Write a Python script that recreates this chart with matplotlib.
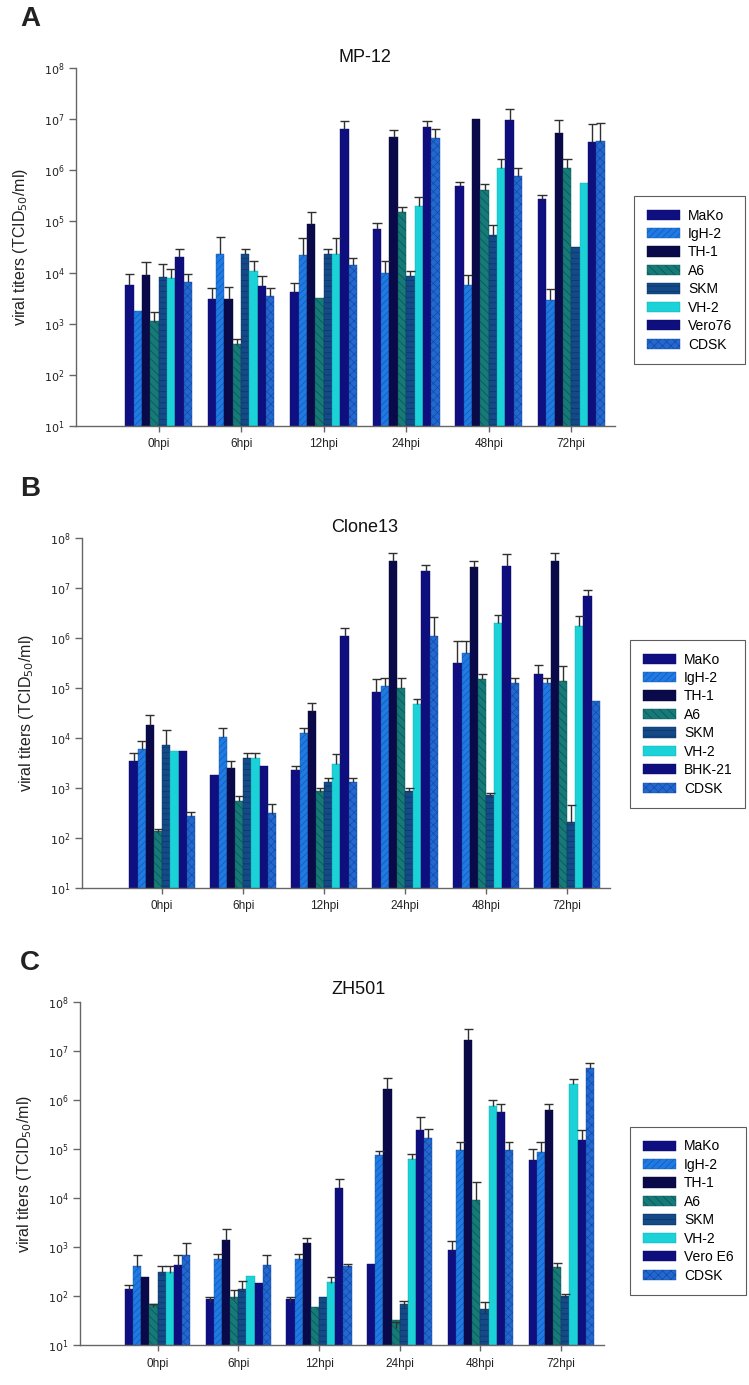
import numpy as np
import matplotlib
matplotlib.use("Agg")
import matplotlib.pyplot as plt
from matplotlib.patches import Patch

plt.rcParams['font.family'] = ['Liberation Sans', 'DejaVu Sans']
plt.rcParams['hatch.linewidth'] = 0.5

times = ["0hpi", "6hpi", "12hpi", "24hpi", "48hpi", "72hpi"]

lines_a = ["MaKo", "IgH-2", "TH-1", "A6", "SKM", "VH-2", "Vero76", "CDSK"]
lines_b = ["MaKo", "IgH-2", "TH-1", "A6", "SKM", "VH-2", "BHK-21", "CDSK"]
lines_c = ["MaKo", "IgH-2", "TH-1", "A6", "SKM", "VH-2", "Vero E6", "CDSK"]

# MP-12 titers (rows = cell lines, cols = time points) and upper error-bar tops
mp12_titer = [
    [5.8e3, 3.0e3, 4.2e3, 7.0e4, 4.9e5, 2.8e5],
    [1.8e3, 2.3e4, 2.2e4, 1.0e4, 5.8e3, 2.9e3],
    [8.9e3, 3.0e3, 8.9e4, 4.4e6, 1.0e7, 5.4e6],
    [1.1e3, 4.0e2, 3.2e3, 1.5e5, 4.1e5, 1.1e6],
    [8.1e3, 2.3e4, 2.3e4, 8.5e3, 5.4e4, 3.2e4],
    [7.9e3, 1.07e4, 2.3e4, 2.0e5, 1.1e6, 5.7e5],
    [2.0e4, 5.4e3, 6.3e6, 7.1e6, 9.7e6, 3.6e6],
    [6.4e3, 3.5e3, 1.4e4, 4.2e6, 7.8e5, 3.7e6],
]
mp12_err = [
    [9.5e3, 4.9e3, 6.3e3, 9.3e4, 6.0e5, 3.3e5],
    [None, 4.9e4, 4.7e4, 1.66e4, 9.1e3, 4.8e3],
    [1.6e4, 5.2e3, 1.55e5, 6.2e6, None, 9.8e6],
    [1.66e3, 5.1e2, None, 1.95e5, 5.5e5, 1.66e6],
    [1.5e4, 2.95e4, 2.95e4, 1.05e4, 8.5e4, None],
    [1.15e4, 1.66e4, 4.7e4, 2.95e5, 1.66e6, None],
    [2.95e4, 8.7e3, 9.1e6, 9.1e6, 1.58e7, 8.1e6],
    [9.3e3, 5.1e3, 1.95e4, 6.3e6, 1.1e6, 8.5e6],
]

# Clone13
clone13_titer = [
    [3.5e3, 1.8e3, 2.3e3, 8.3e4, 3.1e5, 1.9e5],
    [6.1e3, 1.03e4, 1.24e4, 1.1e5, 4.9e5, 1.24e5],
    [1.8e4, 2.5e3, 3.5e4, 3.5e7, 2.6e7, 3.5e7],
    [1.3e2, 5.5e2, 8.5e2, 1.0e5, 1.5e5, 1.4e5],
    [7.2e3, 3.9e3, 1.3e3, 8.5e2, 7.0e2, 2.0e2],
    [5.6e3, 3.9e3, 3.0e3, 4.8e4, 2.0e6, 1.7e6],
    [5.6e3, 2.7e3, 1.1e6, 2.2e7, 2.8e7, 6.9e6],
    [2.7e2, 3.0e2, 1.3e3, 1.1e6, 1.24e5, 5.5e4],
]
clone13_err = [
    [5.1e3, None, 2.8e3, 1.48e5, 8.7e5, 2.9e5],
    [8.9e3, 1.62e4, 1.6e4, 1.62e5, 8.7e5, 1.62e5],
    [2.9e4, 3.5e3, 5.1e4, 5.0e7, 3.4e7, 5.1e7],
    [1.5e2, 7.0e2, 1.0e3, 1.62e5, 1.9e5, 2.7e5],
    [1.45e4, 5.0e3, 1.6e3, 1.0e3, 8.0e2, 4.5e2],
    [None, 5.0e3, 4.8e3, 5.9e4, 2.9e6, 2.7e6],
    [None, None, 1.55e6, 2.9e7, 4.8e7, 9.1e6],
    [3.3e2, 4.8e2, 1.6e3, 2.6e6, 1.62e5, None],
]

# ZH501
zh501_titer = [
    [1.3e2, 75, 75, 4.5e2, 8.7e2, 6.0e4],
    [3.9e2, 5.6e2, 5.6e2, 7.6e4, 9.5e4, 8.8e4],
    [2.4e2, 1.4e3, 1.2e3, 1.7e6, 1.7e7, 6.3e5],
    [60, 85, 50, 22, 9.1e3, 3.8e2],
    [3.0e2, 1.3e2, 85, 60, 45, 90],
    [3.0e2, 2.45e2, 1.8e2, 6.2e4, 7.6e5, 2.1e6],
    [4.15e2, 1.7e2, 1.6e4, 2.4e5, 5.6e5, 1.5e5],
    [6.9e2, 4.2e2, 3.9e2, 1.7e5, 9.5e4, 4.6e6],
]
zh501_err = [
    [1.7e2, 95, 95, None, 1.3e3, 1.0e5],
    [6.8e2, 7.2e2, 7.2e2, 9.3e4, 1.4e5, 1.4e5],
    [None, 2.3e3, 1.5e3, 2.75e6, 2.8e7, 8.3e5],
    [70, 1.3e2, None, 30, 2.1e4, 4.7e2],
    [4.1e2, 2.0e2, None, 80, 75, 1.1e2],
    [4.1e2, None, 2.4e2, 7.9e4, 9.8e5, 2.7e6],
    [6.9e2, None, 2.45e4, 4.4e5, 8.3e5, 2.45e5],
    [1.2e3, 6.9e2, 4.6e2, 2.6e5, 1.4e5, 5.6e6],
]

colors = ["#0f0f82", "#1f7ae6", "#0a0a4a", "#167a78", "#144a88", "#1ad2d8", "#0e0e7e", "#2268d2"]
edges = ["#0b0b60", "#1458a8", "#06062e", "#0c5250", "#0d3462", "#12a6aa", "#0a0a5c", "#164a9c"]
hatches = [None, "/////", None, "\\\\\\\\", "---", None, None, "xxxx"]

W, H = 749, 1385
fig = plt.figure(figsize=(W / 100, H / 100), dpi=100)


def px_axes(left, right, top, bottom):
    return fig.add_axes([left / W, 1 - bottom / H, (right - left) / W, (bottom - top) / H])


def panel(ax, titer, err, labels, xlim, legend_box):
    n = len(labels)
    bw = 0.101
    x = np.arange(len(times))
    for i in range(n):
        off = (i - (n - 1) / 2) * bw
        vals = np.array(titer[i], dtype=float)
        ax.bar(x + off, vals, width=bw, bottom=10, color=colors[i], edgecolor=edges[i],
               linewidth=0.3, hatch=hatches[i], label=labels[i], zorder=2)
        for j, e in enumerate(err[i]):
            if e is None:
                continue
            ax.vlines(x[j] + off, vals[j], e, color="#303030", linewidth=1.0, zorder=3)
            ax.hlines(e, x[j] + off - bw * 0.55, x[j] + off + bw * 0.55, color="#303030",
                      linewidth=1.0, zorder=3)
    ax.set_yscale("log")
    ax.set_ylim(10, 1e8)
    ax.set_xlim(*xlim)
    ax.set_yticks([10 ** k for k in range(1, 9)])
    ax.set_yticklabels([r"$10^{%d}$" % k for k in range(1, 9)])
    ax.yaxis.set_minor_locator(matplotlib.ticker.NullLocator())
    ax.set_xticks(x)
    ax.set_xticklabels(times)
    for s in ["top", "right"]:
        ax.spines[s].set_visible(False)
    for s in ["left", "bottom"]:
        ax.spines[s].set_color("#666666")
        ax.spines[s].set_linewidth(1.0)
    ax.tick_params(axis="y", length=5, width=1, color="#666666", labelsize=8, labelcolor="#222222", pad=3)
    ax.tick_params(axis="x", length=4, width=1, color="#666666", labelsize=8.5, labelcolor="#222222", pad=5)
    ax.set_ylabel(r"viral titers (TCID$_{50}$/ml)", fontsize=11.5, color="#222222", labelpad=10)
    lx, ly = legend_box
    leg = ax.legend(loc="upper left", bbox_to_anchor=(lx / W, 1 - ly / H), bbox_transform=fig.transFigure,
                    fontsize=10, frameon=True, fancybox=False, handlelength=2.4, handleheight=0.75,
                    labelspacing=0.32, handletextpad=0.6, borderpad=0.9, borderaxespad=0)
    leg.get_frame().set_edgecolor("#333333")
    leg.get_frame().set_linewidth(0.8)


axA = px_axes(76, 615, 68, 426)
panel(axA, mp12_titer, mp12_err, lines_a, (-1.0, 5.53), (634, 196))
axB = px_axes(82, 610, 538, 888)
panel(axB, clone13_titer, clone13_err, lines_b, (-0.99, 5.53), (630, 640))
axC = px_axes(80, 604, 1002, 1345)
panel(axC, zh501_titer, zh501_err, lines_c, (-0.96, 5.53), (630, 1127))

fig.text(365 / W, 1 - 58 / H, "MP-12", fontsize=13, ha="center", va="center", color="#111111")
fig.text(365 / W, 1 - 527 / H, "Clone13", fontsize=13, ha="center", va="center", color="#111111")
fig.text(358 / W, 1 - 990 / H, "ZH501", fontsize=13, ha="center", va="center", color="#111111")

fig.text(30 / W, 1 - 19 / H, "A", fontsize=20, fontweight="bold", ha="center", va="center", color="#222222")
fig.text(30 / W, 1 - 489 / H, "B", fontsize=20, fontweight="bold", ha="center", va="center", color="#222222")
fig.text(30 / W, 1 - 963 / H, "C", fontsize=20, fontweight="bold", ha="center", va="center", color="#222222")

fig.savefig("out.png", dpi=100)
